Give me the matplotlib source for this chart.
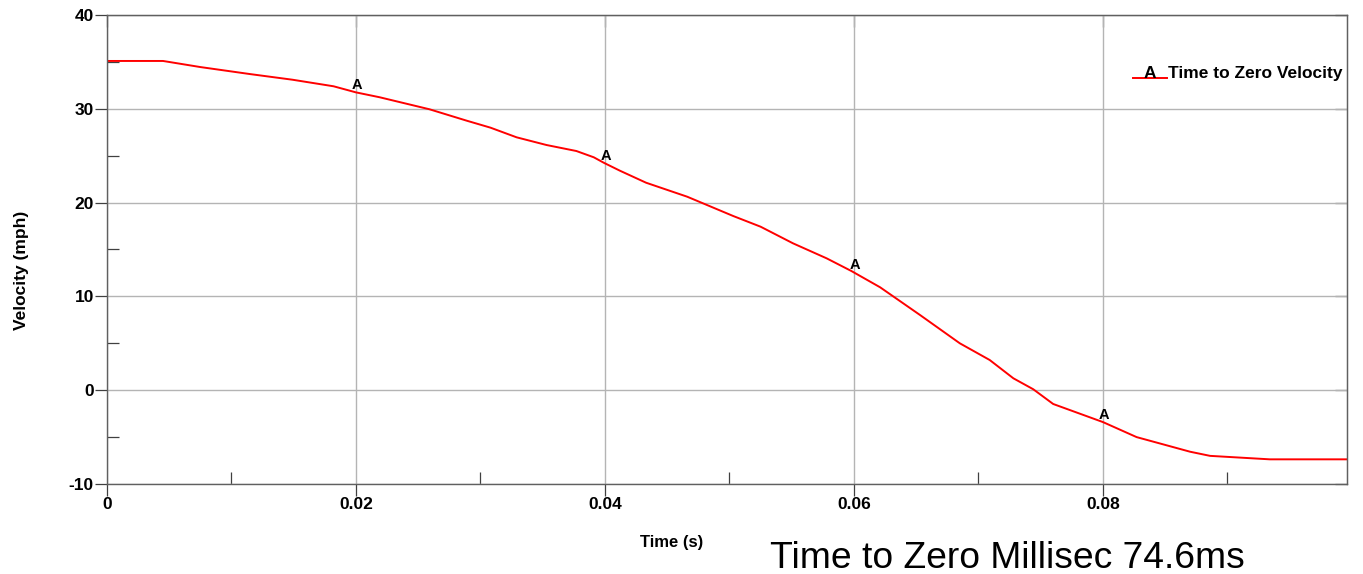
import numpy as np
import matplotlib
matplotlib.use("Agg")
import matplotlib.pyplot as plt
from matplotlib.ticker import MultipleLocator, FuncFormatter, NullFormatter

plt.rcParams["font.family"] = ["Liberation Sans", "DejaVu Sans"]

# velocity trace
time_s = [0, 0.0045, 0.0075, 0.0115, 0.0149, 0.0182, 0.0200, 0.0219, 0.0259,
          0.0289, 0.0308, 0.0329, 0.0353, 0.0377, 0.0391, 0.0399, 0.0412,
          0.0433, 0.0466, 0.0503, 0.0525, 0.0551, 0.0578, 0.0598, 0.0621,
          0.0653, 0.0685, 0.0709, 0.0728, 0.0744, 0.0760, 0.0800, 0.0827,
          0.0870, 0.0886, 0.0934, 0.0998]
velocity_mph = [35.1, 35.1, 34.45, 33.7, 33.1, 32.4, 31.75, 31.23, 29.95,
                28.73, 27.99, 26.96, 26.14, 25.5, 24.83, 24.25, 23.4,
                22.12, 20.63, 18.57, 17.43, 15.66, 14.06, 12.7, 10.97,
                8.02, 5.0, 3.22, 1.27, 0.1, -1.47, -3.4, -5.0,
                -6.56, -7.0, -7.37, -7.37]
marker_times = [0.02, 0.04, 0.06, 0.08]
series_name = "Time to Zero Velocity"
note = "Time to Zero Millisec 74.6ms"

fig = plt.figure(figsize=(13.63, 5.74), dpi=100)
ax = fig.add_axes([107 / 1363, 1 - 484 / 574, 1240 / 1363, 469 / 574])

ax.plot(time_s, velocity_mph, color="#ff0000", lw=1.4)
for tm in marker_times:
    vm = np.interp(tm, time_s, velocity_mph)
    ax.annotate("A", (tm, vm), xytext=(1, 0), textcoords="offset points",
                ha="center", va="bottom", fontsize=10.5, fontweight="bold")

ax.set_xlim(0, 0.0996)
ax.set_ylim(-10, 40)
ax.xaxis.set_major_locator(MultipleLocator(0.02))
ax.xaxis.set_minor_locator(MultipleLocator(0.01))
ax.yaxis.set_major_locator(MultipleLocator(10))
ax.yaxis.set_minor_locator(MultipleLocator(5))
ax.xaxis.set_major_formatter(FuncFormatter(lambda v, p: "0" if v == 0 else f"{v:.2f}"))
ax.yaxis.set_major_formatter(FuncFormatter(lambda v, p: f"{v:.0f}"))

ax.grid(True, which="major", color="#b4b4b4", lw=1)
ax.tick_params(which="major", direction="out", length=8.5, width=0.9,
               color="#404040", labelsize=12.5, pad=1)
ax.tick_params(which="minor", direction="in", length=8.5, width=0.9,
               color="#404040")
for lab in ax.get_xticklabels() + ax.get_yticklabels():
    lab.set_fontweight("bold")
for sp in ax.spines.values():
    sp.set_color("#606060")
    sp.set_linewidth(1)

# inward major ticks on top and right, no labels
sec_top = ax.secondary_xaxis("top")
sec_top.xaxis.set_major_locator(MultipleLocator(0.02))
sec_top.xaxis.set_major_formatter(NullFormatter())
sec_right = ax.secondary_yaxis("right")
sec_right.yaxis.set_major_locator(MultipleLocator(10))
sec_right.yaxis.set_major_formatter(NullFormatter())
for sec, side in ((sec_top, "top"), (sec_right, "right")):
    sec.tick_params(direction="in", length=8.5, width=0.9, color="#404040")
    sec.spines[side].set_color("#606060")

# legend
fig.text(1150 / 1363, 1 - 78 / 574, "A", fontsize=12.5, fontweight="bold",
         ha="center", va="baseline")
fig.add_artist(plt.Line2D([1133 / 1363, 1167 / 1363], [1 - 78 / 574, 1 - 78 / 574],
                          color="#ff0000", lw=1.4))
fig.text(1168 / 1363, 1 - 78 / 574, series_name, fontsize=12.5, fontweight="bold",
         ha="left", va="baseline")

fig.text(672 / 1363, 1 - 543 / 574, "Time (s)", fontsize=12, fontweight="bold",
         ha="center", va="center")
fig.text(22 / 1363, 1 - 270 / 574, "Velocity (mph)", fontsize=12.5, fontweight="bold",
         ha="center", va="center", rotation=90)
fig.text(770 / 1363, 1 - 568 / 574, note, fontsize=26.8, ha="left", va="baseline")

fig.savefig("out.png", dpi=100)
